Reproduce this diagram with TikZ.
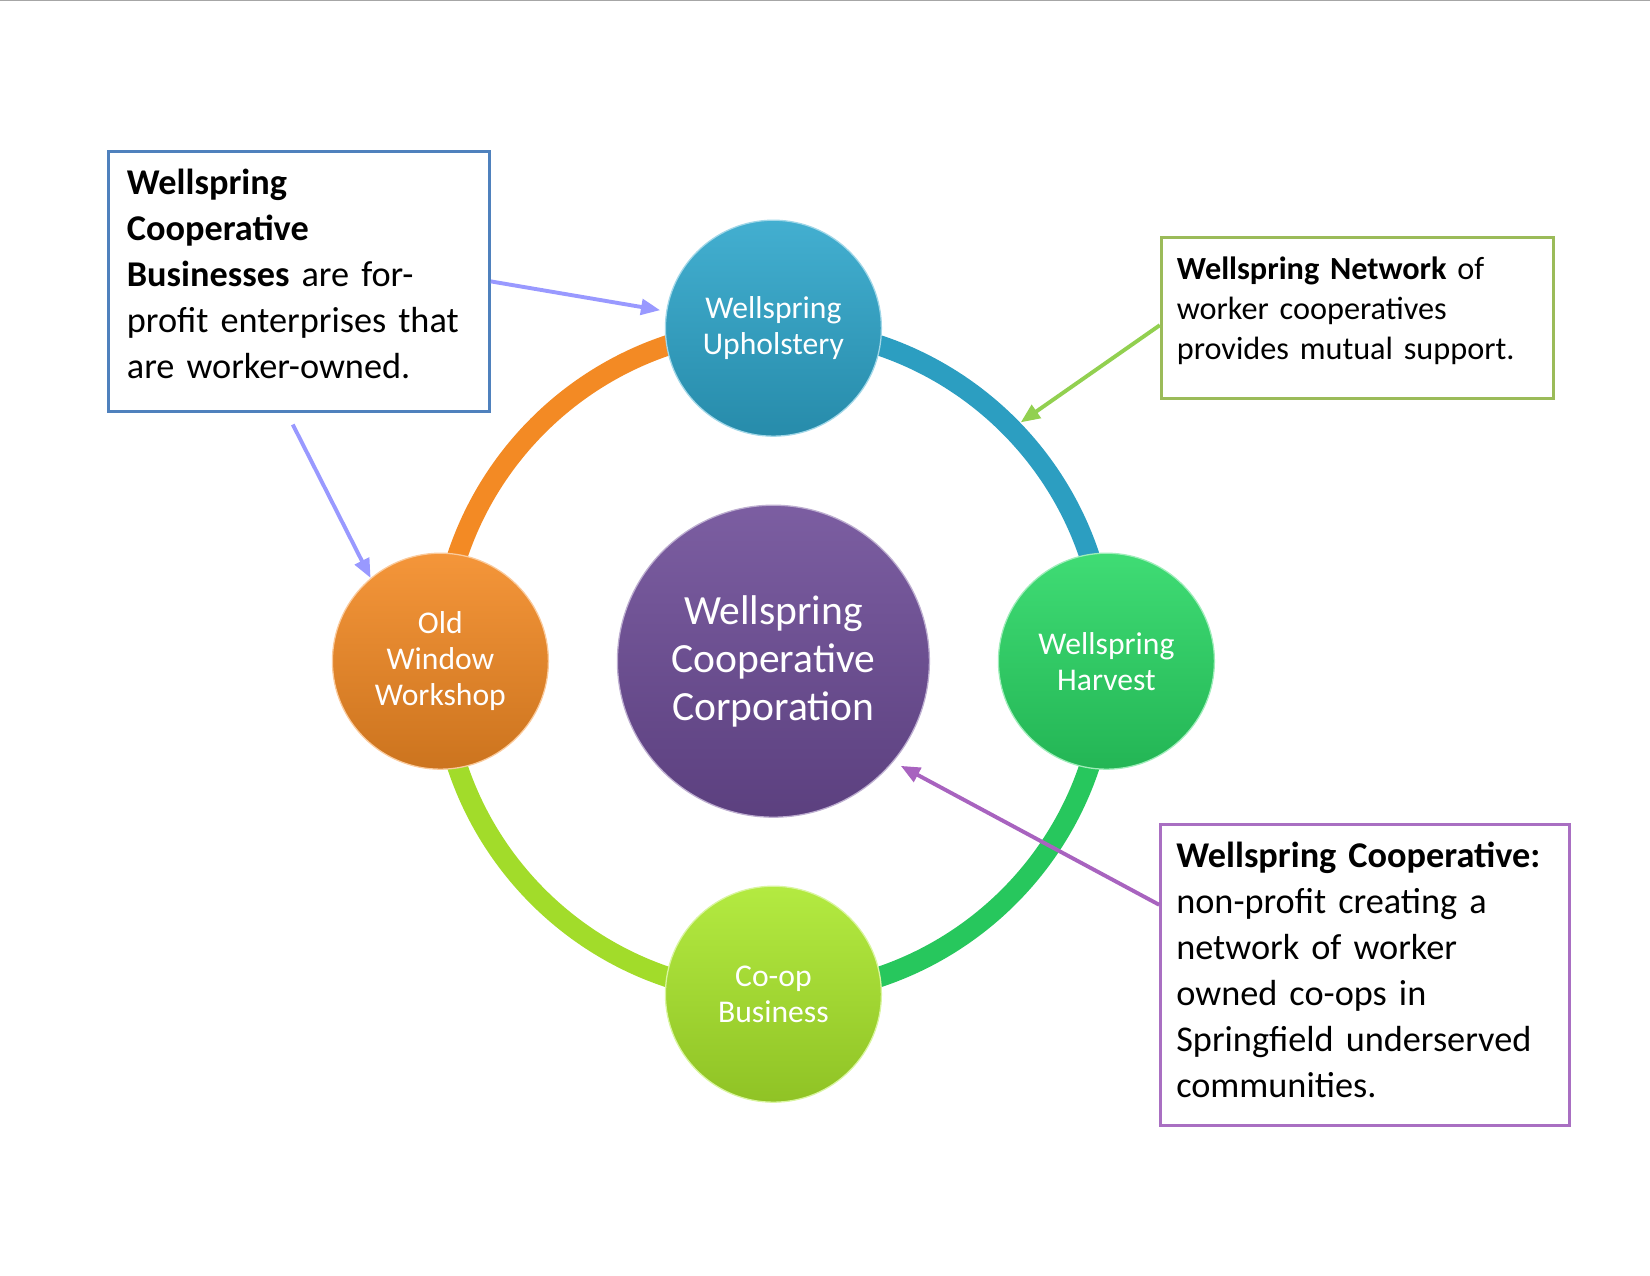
\documentclass[tikz,border=0pt]{standalone}
\usepackage{fontspec}
\setmainfont{Carlito}
\usepackage{tikz}
\usetikzlibrary{arrows.meta,positioning,calc,backgrounds}
\definecolor{wsblue}{HTML}{2EA6CB}
\definecolor{wsgreen}{HTML}{2AD865}
\definecolor{wslime}{HTML}{ABE82C}
\definecolor{wsorange}{HTML}{F38A24}
\definecolor{wspurple}{HTML}{6D4C97}
\definecolor{bxblue}{HTML}{4F81BD}
\definecolor{bxgreen}{HTML}{9BBB59}
\definecolor{bxpurple}{HTML}{A96FC2}
\definecolor{arblue}{HTML}{9999FF}
\definecolor{argreen}{HTML}{92D050}
\definecolor{arpurple}{HTML}{A863BF}
\tikzset{
  bubble/.style={circle, draw=white!55!#1, line width=0.6pt,
                 top color=#1!90!white, bottom color=#1!84!black,
                 text=white, align=center, inner sep=0pt, minimum size=36mm,
                 font=\fontsize{15}{17.1}\selectfont},
  hubble/.style={bubble=#1, minimum size=52mm,
                 font=\fontsize{19.7}{22.8}\selectfont},
  note/.style={rectangle, draw=#1, line width=0.5mm, fill=white,
               align=left, anchor=north west, inner xsep=2.6mm, inner ysep=0pt},
  ringarc/.style={line width=3.4mm, draw=#1},
  ar/.style={-{Triangle[length=3.2mm,width=2.6mm]}, line width=0.65mm, draw=#1},
}
\begin{document}
\begin{tikzpicture}[x=1mm,y=1mm]
\useasboundingbox (0,0) rectangle (275,212.5);
\draw[gray!70, line width=0.5mm] (0,212.5) -- (275,212.5);

\coordinate (hub) at (128.9,102.3);
\node[hubble=wspurple] (wcc) at (hub) {Wellspring\\Cooperative\\Corporation};
\node[bubble=wsblue] (ups) at (128.9,157.8) {Wellspring\\Upholstery};
\node[bubble=wsgreen] (harv) at (184.4,102.3) {Wellspring\\Harvest};
\node[bubble=wslime] (coop) at (128.9,46.8) {Co-op\\Business};
\node[bubble=wsorange] (oww) at (73.4,102.3) {Old\\Window\\Workshop};

% ring behind the bubbles
\begin{scope}[on background layer]
\draw[ringarc=wsblue!95!black] (ups.center) arc[start angle=90, end angle=0, radius=55.5];
\draw[ringarc=wsgreen!92!black] (harv.center) arc[start angle=0, end angle=-90, radius=55.5];
\draw[ringarc=wslime!95!black] (coop.center) arc[start angle=-90, end angle=-180, radius=55.5];
\draw[ringarc=wsorange] (oww.center) arc[start angle=180, end angle=90, radius=55.5];
\end{scope}

% notes
\node[note=bxblue,text width=57.3mm,inner xsep=3.1mm,minimum height=43.3mm,
      font=\fontsize{17.2}{21.8}\selectfont] (bizbox) at (17.8,187.5)
   {\textbf{Wellspring}\\\textbf{Cooperative}\\\textbf{Businesses} are for-\\profit enterprises that\\are worker-owned.\vspace{2.4mm}};
\node[note=bxgreen,text width=60.2mm,minimum height=26.9mm,
      font=\fontsize{15.3}{19.2}\selectfont] (netbox) at (193.3,173.2)
   {\textbf{Wellspring Network} of\\worker cooperatives\\provides mutual support.\vspace{2.4mm}};
\node[note=bxpurple,text width=62.9mm,minimum height=50.1mm,
      font=\fontsize{17.2}{21.8}\selectfont] (corpbox) at (193.2,75.3)
   {\textbf{Wellspring Cooperative:}\\non-profit creating a\\network of worker\\owned co-ops in\\Springfield underserved\\communities.\vspace{1.6mm}};

% arrows
\coordinate (netpt) at ($(hub)+(44:57.3)$);
\draw[ar=arblue, shorten >=1mm] (bizbox.east) -- (ups.171);
\draw[ar=arblue, shorten <=2.2mm] ([xshift=-2mm]bizbox.south) -- (oww.130);
\draw[ar=argreen] ([yshift=-1.2mm]netbox.west) -- (netpt);
\draw[ar=arpurple, shorten >=1.4mm] ([yshift=11.7mm]corpbox.west) -- (wcc.-40);
\end{tikzpicture}
\end{document}
